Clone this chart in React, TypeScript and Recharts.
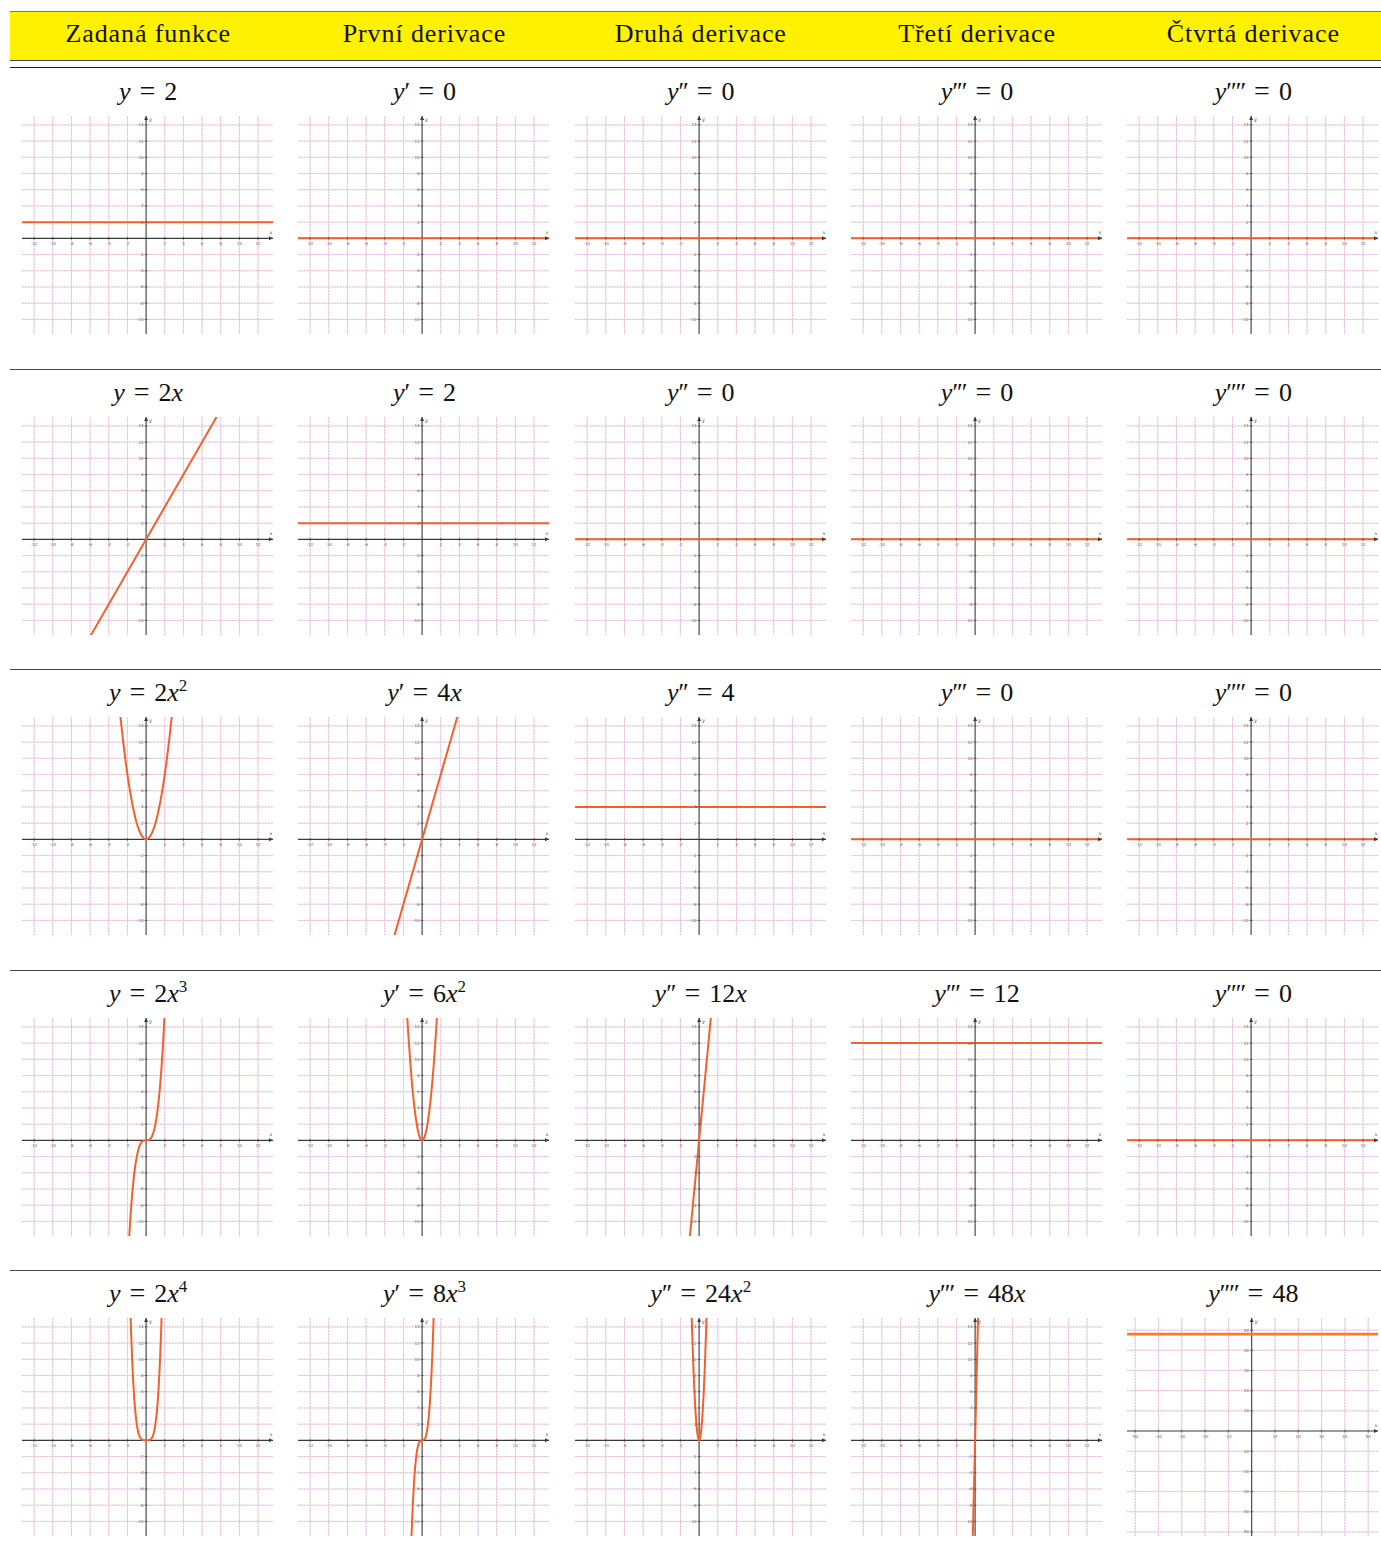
import React from 'react';
import { LineChart, Line, XAxis, YAxis, ReferenceLine, ReferenceDot } from 'recharts';

// ---------- text ----------
const headers = ['Zadaná funkce', 'První derivace', 'Druhá derivace', 'Třetí derivace', 'Čtvrtá derivace'];

// title parts per cell: [primes, coefficient, power of x]
const titleRows: [number, string, number][][] = [
  [[0, '2', 0], [1, '0', 0], [2, '0', 0], [3, '0', 0], [4, '0', 0]],
  [[0, '2', 1], [1, '2', 0], [2, '0', 0], [3, '0', 0], [4, '0', 0]],
  [[0, '2', 2], [1, '4', 1], [2, '4', 0], [3, '0', 0], [4, '0', 0]],
  [[0, '2', 3], [1, '6', 2], [2, '12', 1], [3, '12', 0], [4, '0', 0]],
  [[0, '2', 4], [1, '8', 3], [2, '24', 2], [3, '48', 1], [4, '48', 0]],
];

// ---------- axes ----------
const smallXDomain = [-13.3, 13.6];
const smallYDomain = [-11.8, 15.1];
const smallXTicks = [-12, -10, -8, -6, -4, -2, 2, 4, 6, 8, 10, 12];
const smallYTicks = [-10, -8, -6, -4, -2, 2, 4, 6, 8, 10, 12, 14];
const bigXDomain = [-53.5, 54.2];
const bigYDomain = [-52, 56];
const bigXTicks = [-50, -40, -30, -20, -10, 10, 20, 30, 40, 50];
const bigYTicks = [-50, -40, -30, -20, -10, 10, 20, 30, 40, 50];

// ---------- series ----------
const zeroLine = [{ x: -13.3, y: 0 }, { x: 13.6, y: 0 }];
const twoLine = [{ x: -13.3, y: 2 }, { x: 13.6, y: 2 }];
const fourLine = [{ x: -13.3, y: 4 }, { x: 13.6, y: 4 }];
const twelveLine = [{ x: -13.3, y: 12 }, { x: 13.6, y: 12 }];
const fortyEightLine = [{ x: -53.5, y: 48 }, { x: 54.2, y: 48 }];
const line2x = [{ x: -7, y: -14 }, { x: 8, y: 16 }];
const line4x = [{ x: -3.5, y: -14 }, { x: 4, y: 16 }];
const line12x = [{ x: -1.25, y: -15 }, { x: 1.5, y: 18 }];
const line48x = [{ x: -0.3, y: -14.4 }, { x: 0.35, y: 16.8 }];
const parab2x2 = [
  { x: -3, y: 18 }, { x: -2.75, y: 15.13 }, { x: -2.5, y: 12.5 }, { x: -2.25, y: 10.13 }, { x: -2, y: 8 },
  { x: -1.75, y: 6.13 }, { x: -1.5, y: 4.5 }, { x: -1.25, y: 3.13 }, { x: -1, y: 2 }, { x: -0.75, y: 1.13 },
  { x: -0.5, y: 0.5 }, { x: -0.25, y: 0.13 }, { x: 0, y: 0 }, { x: 0.25, y: 0.13 }, { x: 0.5, y: 0.5 },
  { x: 0.75, y: 1.13 }, { x: 1, y: 2 }, { x: 1.25, y: 3.13 }, { x: 1.5, y: 4.5 }, { x: 1.75, y: 6.13 },
  { x: 2, y: 8 }, { x: 2.25, y: 10.13 }, { x: 2.5, y: 12.5 }, { x: 2.75, y: 15.13 }, { x: 3, y: 18 },
];
const cubic2x3 = [
  { x: -2, y: -16 }, { x: -1.875, y: -13.18 }, { x: -1.75, y: -10.72 }, { x: -1.625, y: -8.58 }, { x: -1.5, y: -6.75 },
  { x: -1.25, y: -3.91 }, { x: -1, y: -2 }, { x: -0.75, y: -0.84 }, { x: -0.5, y: -0.25 }, { x: -0.25, y: -0.03 },
  { x: 0, y: 0 }, { x: 0.25, y: 0.03 }, { x: 0.5, y: 0.25 }, { x: 0.75, y: 0.84 }, { x: 1, y: 2 },
  { x: 1.25, y: 3.91 }, { x: 1.5, y: 6.75 }, { x: 1.625, y: 8.58 }, { x: 1.75, y: 10.72 }, { x: 1.875, y: 13.18 }, { x: 2, y: 16 },
];
const parab6x2 = [
  { x: -1.75, y: 18.38 }, { x: -1.625, y: 15.84 }, { x: -1.5, y: 13.5 }, { x: -1.25, y: 9.38 }, { x: -1, y: 6 },
  { x: -0.75, y: 3.38 }, { x: -0.5, y: 1.5 }, { x: -0.25, y: 0.38 }, { x: 0, y: 0 }, { x: 0.25, y: 0.38 },
  { x: 0.5, y: 1.5 }, { x: 0.75, y: 3.38 }, { x: 1, y: 6 }, { x: 1.25, y: 9.38 }, { x: 1.5, y: 13.5 },
  { x: 1.625, y: 15.84 }, { x: 1.75, y: 18.38 },
];
const quartic2x4 = [
  { x: -1.75, y: 18.76 }, { x: -1.625, y: 13.94 }, { x: -1.5, y: 10.13 }, { x: -1.375, y: 7.15 }, { x: -1.25, y: 4.88 },
  { x: -1.125, y: 3.2 }, { x: -1, y: 2 }, { x: -0.875, y: 1.17 }, { x: -0.75, y: 0.63 }, { x: -0.5, y: 0.13 },
  { x: -0.25, y: 0.01 }, { x: 0, y: 0 }, { x: 0.25, y: 0.01 }, { x: 0.5, y: 0.13 }, { x: 0.75, y: 0.63 },
  { x: 0.875, y: 1.17 }, { x: 1, y: 2 }, { x: 1.125, y: 3.2 }, { x: 1.25, y: 4.88 }, { x: 1.375, y: 7.15 },
  { x: 1.5, y: 10.13 }, { x: 1.625, y: 13.94 }, { x: 1.75, y: 18.76 },
];
const cubic8x3 = [
  { x: -1.25, y: -15.63 }, { x: -1.125, y: -11.39 }, { x: -1, y: -8 }, { x: -0.875, y: -5.36 }, { x: -0.75, y: -3.38 },
  { x: -0.625, y: -1.95 }, { x: -0.5, y: -1 }, { x: -0.25, y: -0.13 }, { x: 0, y: 0 }, { x: 0.25, y: 0.13 },
  { x: 0.5, y: 1 }, { x: 0.625, y: 1.95 }, { x: 0.75, y: 3.38 }, { x: 0.875, y: 5.36 }, { x: 1, y: 8 },
  { x: 1.125, y: 11.39 }, { x: 1.25, y: 15.63 }, { x: 1.375, y: 20.8 },
];
const parab24x2 = [
  { x: -0.875, y: 18.38 }, { x: -0.8125, y: 15.84 }, { x: -0.75, y: 13.5 }, { x: -0.625, y: 9.38 }, { x: -0.5, y: 6 },
  { x: -0.375, y: 3.38 }, { x: -0.25, y: 1.5 }, { x: -0.125, y: 0.38 }, { x: 0, y: 0 }, { x: 0.125, y: 0.38 },
  { x: 0.25, y: 1.5 }, { x: 0.375, y: 3.38 }, { x: 0.5, y: 6 }, { x: 0.625, y: 9.38 }, { x: 0.75, y: 13.5 },
  { x: 0.8125, y: 15.84 }, { x: 0.875, y: 18.38 },
];

type Series = { data: { x: number; y: number }[]; curved: boolean; big?: boolean };
const L = (data: { x: number; y: number }[]): Series => ({ data, curved: false });
const C = (data: { x: number; y: number }[]): Series => ({ data, curved: true });

const seriesRows: Series[][] = [
  [L(twoLine), L(zeroLine), L(zeroLine), L(zeroLine), L(zeroLine)],
  [L(line2x), L(twoLine), L(zeroLine), L(zeroLine), L(zeroLine)],
  [C(parab2x2), L(line4x), L(fourLine), L(zeroLine), L(zeroLine)],
  [C(cubic2x3), C(parab6x2), L(line12x), L(twelveLine), L(zeroLine)],
  [C(quartic2x4), C(cubic8x3), C(parab24x2), L(line48x), { data: fortyEightLine, curved: false, big: true }],
];

// ---------- layout ----------
const COL_W = 276.3;
const ROW_H = 300.5;
const ROW0 = 68;
const CHART_W = 251;
const CHART_H = 218;
const GRID = '#f2b3e4';
const GRID_UNDER = '#e4e0e3';
const AXIS = '#3a3a3a';
const MAIN = '#f4602c';
const MAIN5 = '#f77d2a';

const serif = '"Liberation Serif", "Times New Roman", serif';

const Title = ({ t }: { t: [number, string, number] }) => {
  const [primes, coef, pow] = t;
  return (
    <span style={{ fontFamily: serif, fontSize: 26, whiteSpace: 'nowrap' }}>
      <i>y</i>
      {primes > 0 && <span style={{ letterSpacing: -1 }}>{'′'.repeat(primes)}</span>}
      <span style={{ margin: '0 9px', fontSize: 28 }}>=</span>
      {coef}
      {pow >= 1 && <i>x</i>}
      {pow >= 2 && <sup style={{ fontSize: 17, verticalAlign: 0, position: 'relative', top: -10 }}>{pow}</sup>}
    </span>
  );
};

const xTickShape = (label: string) => (p: any) => (
  <g>
    <line x1={p.cx} x2={p.cx} y1={p.cy - 1.5} y2={p.cy + 1.5} stroke={AXIS} strokeWidth={0.6} />
    <text x={p.cx} y={p.cy + 6.5} fontSize={4} textAnchor="middle" fill="#666" fontFamily="DejaVu Sans">{label}</text>
  </g>
);
const yTickShape = (label: string) => (p: any) => (
  <g>
    <line x1={p.cx - 1.5} x2={p.cx + 1.5} y1={p.cy} y2={p.cy} stroke={AXIS} strokeWidth={0.6} />
    <text x={p.cx - 2.5} y={p.cy + 1.5} fontSize={4} textAnchor="end" fill="#666" fontFamily="DejaVu Sans">{label}</text>
  </g>
);
const xArrow = (p: any) => (
  <g>
    <path d={`M${p.cx},${p.cy} l-4,-2 l0,4 z`} fill={AXIS} />
    <text x={p.cx - 2} y={p.cy - 4} fontSize={5} fill="#444" fontStyle="italic" textAnchor="middle" fontFamily="DejaVu Serif">x</text>
  </g>
);
const yArrow = (p: any) => (
  <g>
    <path d={`M${p.cx},${p.cy} l-2,4 l4,0 z`} fill={AXIS} />
    <text x={p.cx + 3} y={p.cy + 5} fontSize={5} fill="#444" fontStyle="italic" fontFamily="DejaVu Serif">y</text>
  </g>
);

const Plot = ({ s }: { s: Series }) => {
  const xd = s.big ? bigXDomain : smallXDomain;
  const yd = s.big ? bigYDomain : smallYDomain;
  const xt = s.big ? bigXTicks : smallXTicks;
  const yt = s.big ? bigYTicks : smallYTicks;
  return (
    <LineChart width={CHART_W} height={CHART_H} margin={{ top: 0, right: 0, bottom: 0, left: 0 }}>
      <XAxis type="number" dataKey="x" domain={xd} allowDataOverflow hide />
      <YAxis type="number" dataKey="y" domain={yd} allowDataOverflow hide />
      {xt.map((v) => (
        <ReferenceLine key={'ux' + v} x={v} stroke={GRID_UNDER} strokeWidth={1} />
      ))}
      {yt.map((v) => (
        <ReferenceLine key={'uy' + v} y={v} stroke={GRID_UNDER} strokeWidth={1} />
      ))}
      {xt.map((v) => (
        <ReferenceLine key={'gx' + v} x={v} stroke={GRID} strokeWidth={1} strokeDasharray="1.5 1.5" />
      ))}
      {yt.map((v) => (
        <ReferenceLine key={'gy' + v} y={v} stroke={GRID} strokeWidth={1} strokeDasharray="1.5 1.5" />
      ))}
      <ReferenceLine y={0} stroke={AXIS} strokeWidth={1.1} />
      <ReferenceLine x={0} stroke={AXIS} strokeWidth={1.1} />
      {xt.map((v) => (
        <ReferenceDot key={'tx' + v} x={v} y={0} r={0} shape={xTickShape(String(v))} ifOverflow="visible" />
      ))}
      {yt.map((v) => (
        <ReferenceDot key={'ty' + v} x={0} y={v} r={0} shape={yTickShape(String(v))} ifOverflow="visible" />
      ))}
      <ReferenceDot x={xd[1]} y={0} r={0} shape={xArrow} ifOverflow="visible" />
      <ReferenceDot x={0} y={yd[1]} r={0} shape={yArrow} ifOverflow="visible" />
      <Line
        data={s.data}
        dataKey="y"
        type={s.curved ? 'monotone' : 'linear'}
        stroke={s.big ? MAIN5 : MAIN}
        strokeWidth={s.big ? 2.6 : 2}
        dot={false}
        activeDot={false}
        isAnimationActive={false}
      />
    </LineChart>
  );
};

export default function App() {
  return (
    <div style={{ position: 'absolute', left: 0, top: 0, width: 1381, height: 1564, background: '#fff', overflow: 'hidden' }}>
      {/* header band */}
      <div style={{ position: 'absolute', left: 10, top: 11, width: 1371, height: 50, background: '#fff100', borderTop: '1px solid #777', borderBottom: '1.5px solid #444', boxSizing: 'border-box' }} />
      <div style={{ position: 'absolute', left: 10, top: 67, width: 1371, height: 1.2, background: '#222' }} />
      {headers.map((h, i) => (
        <div key={h} style={{ position: 'absolute', left: 10 + i * COL_W - 20, width: COL_W + 40, top: 17, textAlign: 'center', fontFamily: serif, fontSize: 26, letterSpacing: 0.9, lineHeight: '34px', color: '#111' }}>
          {h}
        </div>
      ))}
      {[1, 2, 3, 4].map((r) => (
        <div key={'rule' + r} style={{ position: 'absolute', left: 10, top: ROW0 + r * ROW_H, width: 1371, height: 1, background: '#444' }} />
      ))}
      {titleRows.map((row, r) =>
        row.map((t, c) => (
          <div key={`t${r}${c}`} style={{ position: 'absolute', left: 10 + c * COL_W - 20, width: COL_W + 40, top: ROW0 + r * ROW_H + 6, textAlign: 'center', lineHeight: '34px', color: '#111' }}>
            <Title t={t} />
          </div>
        ))
      )}
      {seriesRows.map((row, r) =>
        row.map((s, c) => (
          <div key={`c${r}${c}`} style={{ position: 'absolute', left: 22 + c * COL_W, top: ROW0 + r * ROW_H + 48 }}>
            <Plot s={s} />
          </div>
        ))
      )}
    </div>
  );
}
